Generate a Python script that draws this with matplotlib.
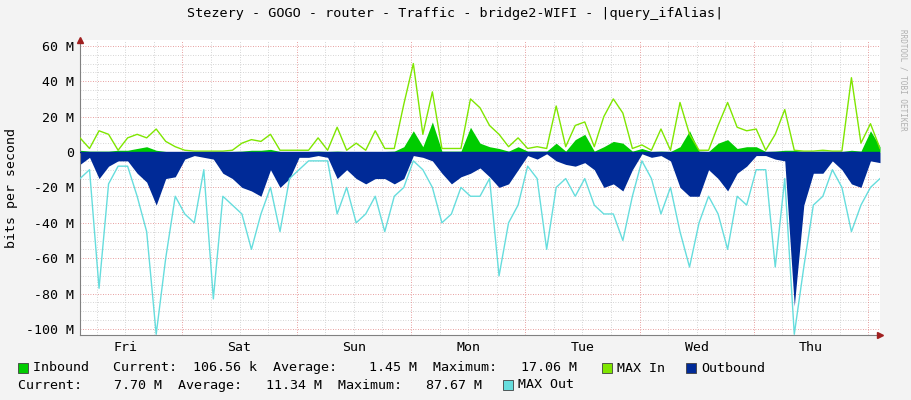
import numpy as np
import matplotlib
matplotlib.use("Agg")
import matplotlib.pyplot as plt
from matplotlib.patches import Rectangle

# hours relative to Sat 00:00, one sample every 2 h
t_start = -21.5
step_h = 2.0

# values in M bit/s
inbound = [1, 0.5, 0.5, 0.5, 1, 1, 2, 3, 1, 0.3, 0.2, 0.2, 0.2, 0.2, 0.2, 0.3, 0.3, 0.5, 1, 1,
           1.5, 0.3, 0.3, 0.3, 0.3, 0.5, 0.3, 0.5, 0.3, 0.3, 0.3, 0.3, 0.3, 0.5, 3, 12,
           3, 17, 0.5, 0.5, 0.5, 14, 5, 3, 2, 0.5, 3, 0.5, 0.5, 0.5, 5, 0.5, 7, 10, 0.5,
           3, 6, 5, 0.5, 2, 0.3, 0.5, 0.3, 3, 12, 0.5, 0.3, 5, 7, 2, 3, 3, 0.3, 0.5, 1,
           1, 0.3, 0.3, 0.5, 0.3, 0.3, 1, 0.5, 12, 3]
max_in = [8, 2, 12, 10, 1, 8, 10, 8, 13, 6, 3, 1, 0.5, 0.5, 0.5, 0.5, 1, 5, 7, 6,
          10, 1, 1, 1, 1, 8, 1, 14, 1, 5, 1, 12, 2, 2, 27, 50,
          10, 34, 2, 2, 2, 30, 25, 15, 10, 3, 8, 2, 3, 2, 26, 3, 15, 17, 3,
          20, 30, 22, 2, 4, 1, 13, 1, 28, 10, 1, 1, 15, 28, 14, 12, 13, 1, 10, 24,
          1, 0.5, 0.5, 1, 0.5, 0.5, 42, 5, 16, 2]
outbound = [-7, -3, -15, -8, -5, -5, -12, -17, -30, -15, -14, -4, -2, -3, -4, -12, -15, -20, -22, -25,
            -10, -20, -15, -3, -3, -2, -3, -15, -10, -15, -18, -15, -15, -18, -15, -2,
            -3, -5, -12, -18, -14, -12, -9, -14, -20, -18, -10, -2, -4, -1, -5, -7, -8, -6, -10,
            -20, -18, -22, -10, -1, -3, -2, -5, -20, -25, -25, -10, -15, -22, -12, -8, -2, -2, -4, -5,
            -87, -30, -12, -12, -5, -10, -18, -20, -5, -6]
max_out = [-15, -10, -77, -18, -8, -8, -25, -45, -103, -60, -25, -35, -40, -10, -83, -25, -30, -35, -55, -35,
           -20, -45, -15, -10, -5, -5, -5, -35, -20, -40, -35, -25, -45, -25, -20, -5,
           -10, -20, -40, -35, -20, -25, -25, -15, -70, -40, -30, -8, -15, -55, -20, -15, -25, -15, -30,
           -35, -35, -50, -25, -5, -15, -35, -20, -45, -65, -40, -25, -35, -55, -25, -30, -10, -10, -65, -15,
           -103, -65, -30, -25, -10, -20, -45, -30, -20, -15]

day_names = ["Fri", "Sat", "Sun", "Mon", "Tue", "Wed", "Thu"]

t = t_start + step_h * np.arange(len(inbound))

bg = "#f3f3f3"
mono = "DejaVu Sans Mono"
fig = plt.figure(figsize=(9.11, 4.0), dpi=100, facecolor=bg)
ax = fig.add_axes([80 / 911, 65 / 400, 800 / 911, 295 / 400])
ax.set_facecolor("white")

x0, x1 = t_start, t_start + 168
ax.set_xlim(x0, x1)
ax.set_ylim(-103.4, 63.3)

# grid
for v in range(-100, 61, 5):
    c = "#e08080" if v % 20 == 0 else "#c8c8c8"
    ax.axhline(v, color=c, lw=0.6, ls=(0, (1, 2)), zorder=0)
for h in range(-18, 168, 6):
    c = "#e08080" if h % 24 == 0 else "#c8c8c8"
    ax.axvline(h, color=c, lw=0.6, ls=(0, (1, 2)), zorder=0)

ax.fill_between(t, 0, outbound, color="#002a97", lw=0, zorder=2)
ax.plot(t, max_out, color="#66dddd", lw=1, zorder=3)
ax.fill_between(t, 0, inbound, color="#00cc00", lw=0, zorder=2)
ax.plot(t, max_in, color="#7fe600", lw=1, zorder=3)

yt = list(range(-100, 61, 20))
ax.set_yticks(yt)
ax.set_yticklabels(["0" if v == 0 else "%d M" % v for v in yt], family=mono, fontsize=9.5)
ax.set_xticks([-12 + 24 * i for i in range(7)])
ax.set_xticklabels(day_names, family=mono, fontsize=9.5)
ax.tick_params(length=0, pad=4)
for s in ["top", "right"]:
    ax.spines[s].set_visible(False)
ax.spines["left"].set_color("#808080")
ax.spines["bottom"].set_color("#808080")
ax.plot([x1], [-103.4], marker=">", color="#a02020", ms=5, clip_on=False, zorder=5)
ax.plot([x0], [63.3], marker="^", color="#a02020", ms=5, clip_on=False, zorder=5)
ax.axhline(0, color="#002a97", lw=1, zorder=4)

ax.set_ylabel("bits per second", family=mono, fontsize=9.5, labelpad=6)

fig.text(455 / 911, 1 - 13 / 400, "Stezery - GOGO - router - Traffic - bridge2-WIFI - |query_ifAlias|",
         ha="center", va="center", family=mono, fontsize=9.7)
fig.text(903 / 911, 1 - 80 / 400, "RRDTOOL / TOBI OETIKER", rotation=270, ha="center", va="center",
         family=mono, fontsize=5.5, color="#b0b0b0")


def legend_box(x, y, color):
    fig.patches.append(Rectangle((x / 911, 1 - (y + 5) / 400), 10 / 911, 10 / 400,
                                 transform=fig.transFigure, facecolor=color,
                                 edgecolor="#404040", lw=0.6))


def legend_text(x, y, s):
    fig.text(x / 911, 1 - y / 400, s, ha="left", va="center", family=mono, fontsize=9.6)


legend_box(18, 368, "#00cc00")
legend_text(33, 368, "Inbound   Current:  106.56 k  Average:    1.45 M  Maximum:   17.06 M")
legend_box(602, 368, "#7fe600")
legend_text(617, 368, "MAX In")
legend_box(686, 368, "#002a97")
legend_text(701, 368, "Outbound")
legend_text(18, 385, "Current:    7.70 M  Average:   11.34 M  Maximum:   87.67 M")
legend_box(503, 385, "#66dddd")
legend_text(518, 385, "MAX Out")

fig.savefig("out.png", dpi=100, facecolor=bg)
